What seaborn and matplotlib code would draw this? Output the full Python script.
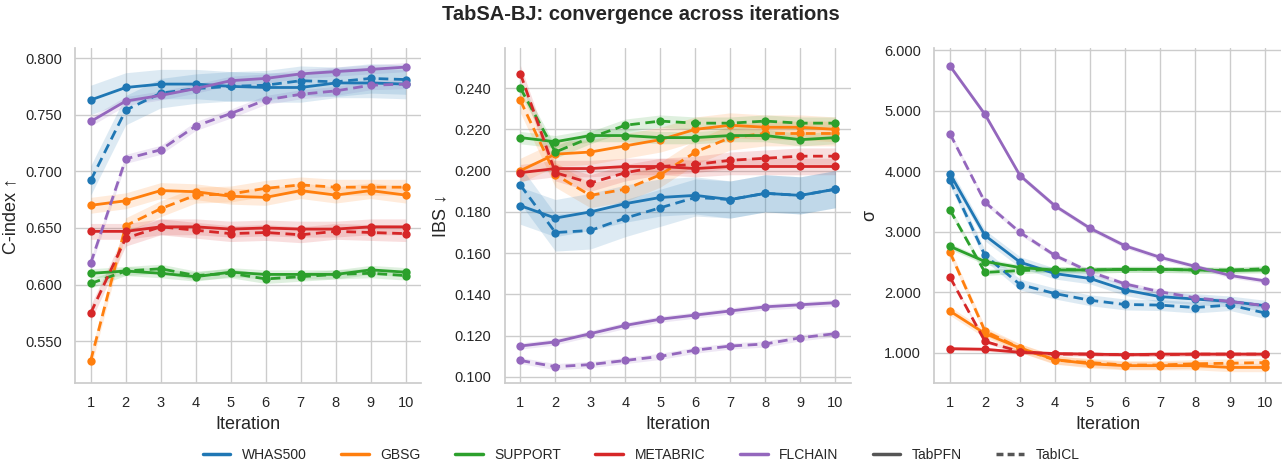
import numpy as np
import pandas as pd
import seaborn as sns
from matplotlib import pyplot as plt
from matplotlib.lines import Line2D
from matplotlib.ticker import FormatStrFormatter

iterations = list(range(1, 11))
datasets = ["WHAS500", "GBSG", "SUPPORT", "METABRIC", "FLCHAIN"]
colors = ["#1f77b4", "#ff7f0e", "#2ca02c", "#d62728", "#9467bd"]

# C-index (higher is better)
cidx_pfn = {
    "WHAS500": [0.763, 0.774, 0.777, 0.777, 0.775, 0.774, 0.774, 0.778, 0.778, 0.777],
    "GBSG": [0.670, 0.674, 0.683, 0.682, 0.678, 0.677, 0.683, 0.679, 0.683, 0.679],
    "SUPPORT": [0.610, 0.612, 0.610, 0.607, 0.611, 0.609, 0.609, 0.609, 0.613, 0.611],
    "METABRIC": [0.647, 0.647, 0.651, 0.651, 0.649, 0.650, 0.649, 0.649, 0.651, 0.651],
    "FLCHAIN": [0.744, 0.762, 0.767, 0.773, 0.780, 0.782, 0.786, 0.788, 0.790, 0.792],
}
cidx_icl = {
    "WHAS500": [0.692, 0.754, 0.769, 0.773, 0.775, 0.776, 0.780, 0.779, 0.782, 0.781],
    "GBSG": [0.533, 0.652, 0.667, 0.679, 0.680, 0.685, 0.688, 0.686, 0.686, 0.686],
    "SUPPORT": [0.601, 0.612, 0.614, 0.608, 0.610, 0.605, 0.607, 0.609, 0.610, 0.608],
    "METABRIC": [0.575, 0.641, 0.651, 0.648, 0.645, 0.646, 0.644, 0.647, 0.646, 0.645],
    "FLCHAIN": [0.619, 0.711, 0.719, 0.740, 0.751, 0.763, 0.768, 0.771, 0.776, 0.777],
}
cidx_band = {"WHAS500": 0.013, "GBSG": 0.007, "SUPPORT": 0.004, "METABRIC": 0.007, "FLCHAIN": 0.004}

# IBS (lower is better)
ibs_pfn = {
    "WHAS500": [0.183, 0.177, 0.180, 0.184, 0.187, 0.188, 0.186, 0.189, 0.188, 0.191],
    "GBSG": [0.200, 0.208, 0.209, 0.212, 0.215, 0.220, 0.222, 0.221, 0.221, 0.220],
    "SUPPORT": [0.216, 0.214, 0.217, 0.217, 0.216, 0.216, 0.217, 0.217, 0.215, 0.216],
    "METABRIC": [0.199, 0.201, 0.201, 0.202, 0.202, 0.201, 0.202, 0.202, 0.202, 0.202],
    "FLCHAIN": [0.115, 0.117, 0.121, 0.125, 0.128, 0.130, 0.132, 0.134, 0.135, 0.136],
}
ibs_icl = {
    "WHAS500": [0.193, 0.170, 0.171, 0.177, 0.182, 0.187, 0.186, 0.189, 0.188, 0.191],
    "GBSG": [0.234, 0.198, 0.188, 0.191, 0.198, 0.209, 0.216, 0.218, 0.218, 0.218],
    "SUPPORT": [0.240, 0.209, 0.216, 0.222, 0.224, 0.223, 0.223, 0.224, 0.223, 0.223],
    "METABRIC": [0.247, 0.199, 0.194, 0.199, 0.202, 0.203, 0.205, 0.206, 0.207, 0.207],
    "FLCHAIN": [0.108, 0.105, 0.106, 0.108, 0.110, 0.113, 0.115, 0.116, 0.119, 0.121],
}
ibs_band = {"WHAS500": 0.009, "GBSG": 0.006, "SUPPORT": 0.003, "METABRIC": 0.004, "FLCHAIN": 0.0015}

# sigma
sigma_pfn = {
    "WHAS500": [3.96, 2.94, 2.50, 2.31, 2.23, 2.04, 1.93, 1.89, 1.85, 1.78],
    "GBSG": [1.69, 1.32, 1.08, 0.89, 0.82, 0.79, 0.79, 0.79, 0.76, 0.76],
    "SUPPORT": [2.76, 2.51, 2.41, 2.37, 2.37, 2.38, 2.38, 2.37, 2.36, 2.37],
    "METABRIC": [1.07, 1.06, 1.01, 0.99, 0.98, 0.97, 0.98, 0.98, 0.98, 0.98],
    "FLCHAIN": [5.74, 4.94, 3.93, 3.43, 3.06, 2.77, 2.58, 2.43, 2.28, 2.19],
}
sigma_icl = {
    "WHAS500": [3.85, 2.61, 2.13, 1.98, 1.87, 1.80, 1.79, 1.75, 1.79, 1.66],
    "GBSG": [2.66, 1.36, 1.08, 0.88, 0.84, 0.80, 0.80, 0.82, 0.83, 0.84],
    "SUPPORT": [3.36, 2.33, 2.36, 2.38, 2.37, 2.38, 2.38, 2.37, 2.37, 2.39],
    "METABRIC": [2.25, 1.19, 1.02, 0.98, 0.98, 0.97, 0.97, 0.98, 0.98, 0.98],
    "FLCHAIN": [4.62, 3.49, 2.99, 2.61, 2.34, 2.14, 2.01, 1.91, 1.85, 1.78],
}
sigma_band = {"WHAS500": 0.09, "GBSG": 0.07, "SUPPORT": 0.05, "METABRIC": 0.03, "FLCHAIN": 0.04}

sns.set_theme(style="whitegrid")
plt.rcParams["font.family"] = ["Liberation Sans", "DejaVu Sans"]

panels = [
    (cidx_pfn, cidx_icl, cidx_band, "C-index ↑", (0.513, 0.809)),
    (ibs_pfn, ibs_icl, ibs_band, "IBS ↓", (0.097, 0.2595)),
    (sigma_pfn, sigma_icl, sigma_band, "σ", (0.50, 6.04)),
]

fig, axes = plt.subplots(1, 3, figsize=(12.82, 4.69), dpi=100)
palette = dict(zip(datasets, colors))

for ax, (pfn, icl, band, ylabel, ylim) in zip(axes, panels):
    rows = []
    for model, vals in [("TabPFN", pfn), ("TabICL", icl)]:
        for d in datasets:
            for it, v in zip(iterations, vals[d]):
                rows.append({"Iteration": it, "value": v, "dataset": d, "model": model})
    df = pd.DataFrame(rows)

    for (d, model), g in df.groupby(["dataset", "model"]):
        y = g["value"].to_numpy()
        ax.fill_between(g["Iteration"], y - band[d], y + band[d],
                        color=palette[d], alpha=0.15, linewidth=0)

    sns.lineplot(data=df, x="Iteration", y="value", hue="dataset", style="model",
                 hue_order=datasets, style_order=["TabPFN", "TabICL"], palette=palette,
                 markers={"TabPFN": "o", "TabICL": "o"},
                 dashes={"TabPFN": "", "TabICL": (3.5, 2)},
                 markersize=6, markeredgewidth=0, linewidth=2, legend=False, ax=ax)

    ax.set_xlim(0.55, 10.45)
    ax.set_ylim(*ylim)
    ax.set_xticks(iterations)
    ax.yaxis.set_major_formatter(FormatStrFormatter("%.3f"))
    ax.set_xlabel("Iteration", fontsize=13)
    ax.set_ylabel(ylabel, fontsize=13)
    ax.tick_params(labelsize=10.5)

sns.despine(fig=fig)

handles = [Line2D([0], [0], color=c, lw=2.5, label=d) for d, c in zip(datasets, colors)]
handles.append(Line2D([0], [0], color="#555555", lw=2.5, label="TabPFN"))
handles.append(Line2D([0], [0], color="#555555", lw=2.5, ls=(0, (2, 1.2)), label="TabICL"))
fig.legend(handles=handles, loc="center", bbox_to_anchor=(0.5, 0.03), ncol=7,
           frameon=False, fontsize=10, columnspacing=2.5)

fig.suptitle("TabSA-BJ: convergence across iterations", fontsize=14.5, fontweight="bold", y=0.99)
plt.subplots_adjust(left=0.0585, right=0.999, bottom=0.183, top=0.898, wspace=0.24)
plt.savefig("out.png", dpi=100)
